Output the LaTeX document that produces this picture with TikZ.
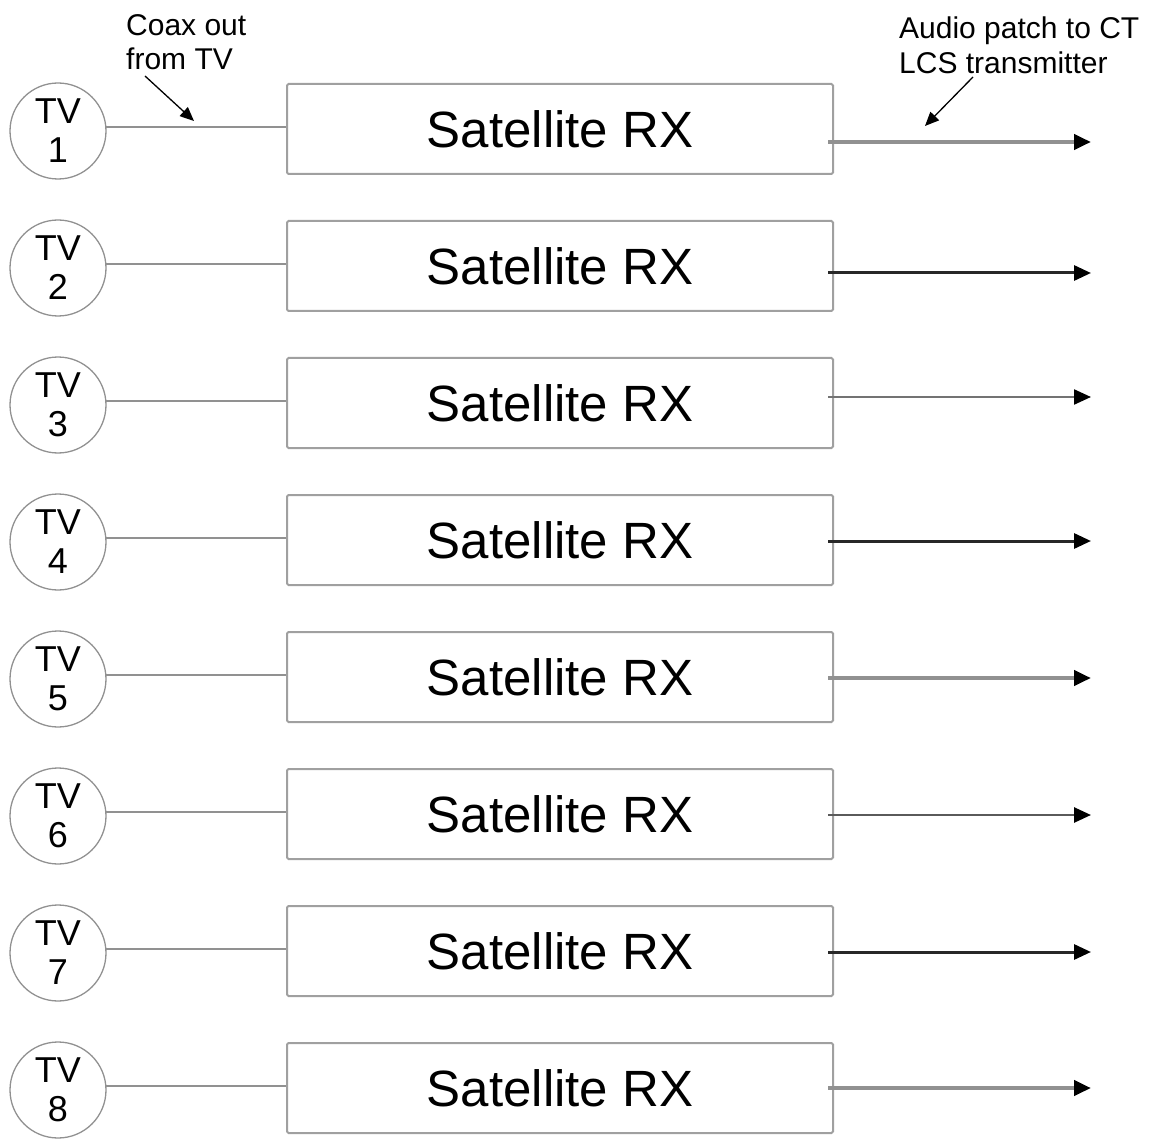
\documentclass[tikz,border=0pt]{standalone}
\usepackage{fontspec}
\setmainfont{Liberation Sans}
\usetikzlibrary{arrows.meta}
\definecolor{boxgray}{RGB}{160,160,160}
\definecolor{circgray}{RGB}{145,145,145}
\definecolor{coaxgray}{RGB}{145,145,145}
\definecolor{outthick}{RGB}{145,145,145}
\definecolor{outdark}{RGB}{40,40,40}
\definecolor{outthin}{RGB}{115,115,115}
\definecolor{outmid}{RGB}{90,90,90}
\begin{document}
\begin{tikzpicture}[x=1pt,y=-1pt,
  tvnode/.style={circle, draw=circgray, line width=1.3pt, minimum size=96pt, inner sep=0pt,
    align=center, font=\fontsize{36}{39}\selectfont},
  rxbox/.style={draw=boxgray, line width=2pt, minimum width=546pt, minimum height=90pt,
    inner sep=0pt, rounded corners=1.5pt, font=\fontsize{51}{60}\selectfont},
  coaxline/.style={draw=coaxgray, line width=1.6pt},
  outbase/.style={-{Triangle[length=17pt,width=15pt,color=black]}},
  thickgray/.style={outbase, draw=outthick, line width=4.5pt},
  darkline/.style={outbase, draw=outdark, line width=3pt},
  thingray/.style={outbase, draw=outthin, line width=2.3pt},
  midgray/.style={outbase, draw=outmid, line width=2.7pt},
  anno/.style={inner sep=0pt, align=left, font=\fontsize{30}{34.5}\selectfont},
  annoarrow/.style={draw=black, line width=1.3pt, -{Triangle[length=14pt,width=12pt]}}
]
\useasboundingbox (0,0) rectangle (1151,1139);

\foreach \i/\dy/\st in {1/13/thickgray, 2/7/darkline, 3/-6/thingray, 4/1/darkline,
                        5/1/thickgray, 6/1/midgray, 7/1/darkline, 8/0/thickgray}{
  \pgfmathsetmacro{\yc}{129+137*(\i-1)}
  \node[tvnode] (tv\i) at (58,\yc+2) {TV\\\i};
  \node[rxbox] (rx\i) at (560,\yc) {Satellite RX};
  \draw[coaxline] (tv\i.5) -- (tv\i.5 -| rx\i.west);
  \coordinate (out\i) at (1091,\yc+\dy);
  \draw[\st] (rx\i.east |- out\i) ++(-6,0) -- (out\i);
}

\node[anno, anchor=north west] (coaxlbl) at (126,14) {Coax out\\from TV};
\node[anno, anchor=north west] (audiolbl) at (899,17) {Audio patch to CT\\LCS transmitter};
\coordinate (coaxtail) at (145,76);
\coordinate (coaxtip) at (194,121);
\coordinate (audiotail) at (973,77);
\coordinate (audiotip) at (925,126);
\draw[annoarrow] (coaxtail) -- (coaxtip);
\draw[annoarrow] (audiotail) -- (audiotip);
\end{tikzpicture}
\end{document}
